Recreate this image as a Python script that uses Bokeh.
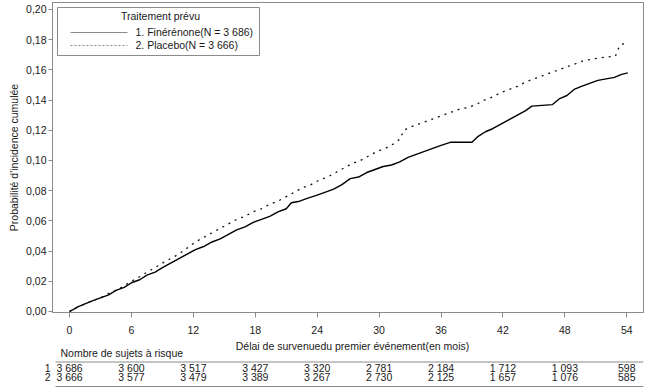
from bokeh.plotting import figure
from bokeh.models import Range1d, FixedTicker
from bokeh.layouts import column
from bokeh.core.properties import value
from bokeh.embed import file_html
from bokeh.resources import INLINE

# ---------------- data ----------------
fin_t = [0, 0.3, 0.8, 1.5, 2.2, 3.0, 3.8, 4.5, 5.3, 6.0,
         6.8, 7.5, 8.3, 9.0, 9.8, 10.6, 11.4, 12.2, 13.0, 13.8,
         14.6, 15.4, 16.2, 17.0, 17.8, 18.6, 19.4, 20.2, 21.0, 21.5,
         22.3, 23.1, 24.0, 24.8, 25.6, 26.4, 27.2, 28.0, 28.8, 29.6,
         30.4, 31.2, 32.0, 32.8, 33.6, 34.4, 35.2, 36.0, 36.9, 39.0,
         39.6, 40.3, 41.0, 41.8, 42.6, 43.4, 44.2, 44.8, 46.8, 47.5,
         48.2, 48.9, 49.6, 50.4, 51.2, 52.0, 52.8, 53.5, 54.1]
fin_v = [0, 0.001, 0.003, 0.005, 0.007, 0.009, 0.011, 0.014, 0.016, 0.019,
         0.021, 0.024, 0.026, 0.029, 0.032, 0.035, 0.038, 0.041, 0.043, 0.046,
         0.048, 0.051, 0.054, 0.056, 0.059, 0.061, 0.063, 0.066, 0.068, 0.072,
         0.073, 0.075, 0.077, 0.079, 0.081, 0.084, 0.088, 0.089, 0.092, 0.094,
         0.096, 0.097, 0.099, 0.102, 0.104, 0.106, 0.108, 0.110, 0.112, 0.112,
         0.116, 0.119, 0.121, 0.124, 0.127, 0.130, 0.133, 0.136, 0.137, 0.141,
         0.143, 0.147, 0.149, 0.151, 0.153, 0.154, 0.155, 0.157, 0.158]

pla_t = [0, 0.3, 0.8, 1.5, 2.2, 3.0, 3.8, 4.5, 5.3, 6.0,
         6.8, 7.5, 8.3, 9.0, 9.8, 10.6, 11.4, 12.2, 13.0, 13.8,
         14.6, 15.4, 16.2, 17.0, 17.8, 18.6, 19.4, 20.2, 21.0, 21.8,
         22.6, 23.4, 24.2, 25.0, 25.8, 26.6, 27.4, 28.2, 29.0, 29.8,
         30.6, 31.4, 32.0, 32.4, 33.0, 33.8, 34.6, 35.4, 36.2, 37.0,
         37.8, 38.6, 39.4, 40.2, 41.0, 41.8, 42.6, 43.4, 44.2, 45.0,
         45.8, 46.6, 47.4, 48.2, 49.0, 49.8, 50.6, 51.4, 52.9, 53.3,
         53.9]
pla_v = [0, 0.001, 0.003, 0.005, 0.007, 0.009, 0.012, 0.014, 0.017, 0.020,
         0.023, 0.026, 0.029, 0.032, 0.035, 0.038, 0.042, 0.046, 0.049, 0.052,
         0.055, 0.058, 0.061, 0.063, 0.066, 0.068, 0.071, 0.073, 0.076, 0.079,
         0.082, 0.084, 0.087, 0.089, 0.092, 0.095, 0.098, 0.100, 0.103, 0.106,
         0.108, 0.111, 0.114, 0.120, 0.122, 0.124, 0.126, 0.128, 0.130, 0.132,
         0.134, 0.135, 0.137, 0.140, 0.142, 0.145, 0.147, 0.149, 0.152, 0.154,
         0.156, 0.158, 0.160, 0.162, 0.164, 0.166, 0.167, 0.168, 0.169, 0.176,
         0.178]

x_ticks = [0, 6, 12, 18, 24, 30, 36, 42, 48, 54]
y_ticks = [0.0, 0.02, 0.04, 0.06, 0.08, 0.10, 0.12, 0.14, 0.16, 0.18, 0.20]
y_tick_labels = ["0,00", "0,02", "0,04", "0,06", "0,08", "0,10",
                 "0,12", "0,14", "0,16", "0,18", "0,20"]

risk_months = [0, 6, 12, 18, 24, 30, 36, 42, 48, 54]
risk_row1 = ["3 686", "3 600", "3 517", "3 427", "3 320", "2 781", "2 184", "1 712", "1 093", "598"]
risk_row2 = ["3 666", "3 577", "3 479", "3 389", "3 267", "2 730", "2 125", "1 657", "1 076", "585"]

legend_title = "Traitement prévu"
series_labels = ["1. Finérénone(N = 3 686)", "2. Placebo(N = 3 666)"]
y_label = "Probabilité d'incidence cumulée"
x_label = "Délai de survenuedu premier événement(en mois)"
risk_title = "Nombre de sujets à risque"
row_ids = ["1", "2"]

# ---------------- layout ----------------
FONT = "Liberation Sans"
GREY = "#8a8a8a"
TXT = "#1a1a1a"
FS = "10.5px"
W = 646
X0, X1 = -1.65, 55.62
FL, FR = 52, 3
PPM = (W - FL - FR) / (X1 - X0)   # pixels per month


def m_at(px):
    """month value located at page pixel px"""
    return X0 + (px - FL) / PPM


p = figure(width=W, height=340, output_backend="svg", toolbar_location=None,
           x_range=Range1d(X0, X1), y_range=Range1d(-0.0007, 0.2046),
           min_border_left=FL, min_border_right=FR, min_border_top=2,
           min_border_bottom=28)
p.grid.visible = False
p.outline_line_color = GREY
p.background_fill_color = "white"
p.border_fill_color = "white"

for ax in (p.xaxis[0], p.yaxis[0]):
    ax.axis_line_color = GREY
    ax.major_tick_line_color = GREY
    ax.minor_tick_line_color = None
    ax.major_label_text_font = FONT
    ax.major_label_text_font_size = FS
    ax.major_label_text_color = TXT
    ax.axis_label_text_font = FONT
    ax.axis_label_text_font_style = "normal"
    ax.axis_label_text_font_size = FS
    ax.axis_label_text_color = TXT

p.xaxis.ticker = FixedTicker(ticks=x_ticks)
p.xaxis.major_tick_out = 5
p.xaxis.major_tick_in = 0
p.xaxis.major_label_standoff = 8

p.yaxis.ticker = FixedTicker(ticks=y_ticks)
p.yaxis.major_label_overrides = {t: l for t, l in zip(y_ticks, y_tick_labels)}
p.yaxis.major_tick_out = 4
p.yaxis.major_tick_in = 0
p.yaxis.major_label_standoff = 2
p.yaxis.axis_label = y_label
p.yaxis.axis_label_standoff = 3

p.line(fin_t, fin_v, line_color="black", line_width=1.4)
p.line(pla_t, pla_v, line_color="#111111", line_width=1.3, line_dash="2 5")

# legend box (drawn manually)
ytop = 0.2046
def y_at(py):
    return ytop - (py - 2) / 1510.0

p.quad(left=[m_at(57)], right=[m_at(259)], bottom=[y_at(55)], top=[y_at(7)],
       fill_color="white", line_color=GREY, line_width=1)
p.text(x=[m_at(160)], y=[y_at(16)], text=[legend_title], text_align="center",
       text_baseline="middle", text_font=value(FONT), text_font_size=FS,
       text_color=TXT)
p.line([m_at(70), m_at(127)], [y_at(32), y_at(32)], line_color=GREY, line_width=1)
p.line([m_at(70), m_at(127)], [y_at(45), y_at(45)], line_color=GREY, line_width=1,
       line_dash="2 2")
p.text(x=[m_at(135), m_at(135)], y=[y_at(32), y_at(45)], text=series_labels,
       text_align="left", text_baseline="middle", text_font=value(FONT),
       text_font_size=FS, text_color=TXT)

# ---------------- risk table ----------------
ROW_Y = [27, 36]
t = figure(width=W, height=48, output_backend="svg", toolbar_location=None,
           x_range=Range1d(X0, X1), y_range=Range1d(48, 0),
           x_axis_location=None, y_axis_location="left",
           min_border_left=FL, min_border_right=FR, min_border_top=0,
           min_border_bottom=0)
t.grid.visible = False
t.outline_line_color = None
# row ids are drawn as left-axis labels (in the border area)
t.yaxis.ticker = FixedTicker(ticks=ROW_Y)
t.yaxis.major_label_overrides = {ROW_Y[0]: row_ids[0], ROW_Y[1]: row_ids[1]}
t.yaxis.axis_line_color = None
t.yaxis.major_tick_line_color = None
t.yaxis.minor_tick_line_color = None
t.yaxis.major_tick_out = 0
t.yaxis.major_tick_in = 0
t.yaxis.major_label_standoff = 2
t.yaxis.major_label_text_font = FONT
t.yaxis.major_label_text_font_size = FS
t.yaxis.major_label_text_color = TXT

t.text(x=[m_at(352)], y=[5], text=[x_label], text_align="center",
       text_baseline="middle", text_font=value(FONT), text_font_size=FS,
       text_color=TXT)
t.text(x=[m_at(60)], y=[12], text=[risk_title], text_align="left",
       text_baseline="middle", text_font=value(FONT), text_font_size=FS,
       text_color=TXT)
t.line([m_at(55), m_at(643)], [21.5, 21.5], line_color=GREY, line_width=1)
t.line([m_at(55), m_at(643)], [46, 46], line_color=GREY, line_width=1)
t.text(x=risk_months, y=[ROW_Y[0]] * len(risk_months), text=risk_row1,
       text_align="center", text_baseline="middle", text_font=value(FONT),
       text_font_size=FS, text_color=TXT)
t.text(x=risk_months, y=[ROW_Y[1]] * len(risk_months), text=risk_row2,
       text_align="center", text_baseline="middle", text_font=value(FONT),
       text_font_size=FS, text_color=TXT)

layout = column(p, t, spacing=0)
open("out.html", "w").write(file_html(layout, INLINE))
